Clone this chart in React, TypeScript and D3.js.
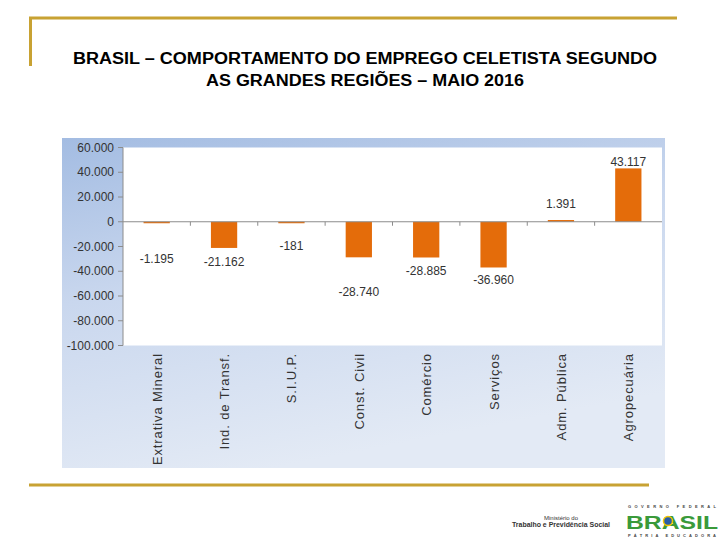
import React from "react";
import * as d3 from "d3";

const categories = [
  "Extrativa Mineral",
  "Ind. de Transf.",
  "S.I.U.P.",
  "Const. Civil",
  "Comércio",
  "Serviços",
  "Adm. Pública",
  "Agropecuária",
];
const values = [-1195, -21162, -181, -28740, -28885, -36960, 1391, 43117];
const yTicks = [60000, 40000, 20000, 0, -20000, -40000, -60000, -80000, -100000];
const titleLines = [
  "BRASIL – COMPORTAMENTO DO EMPREGO CELETISTA SEGUNDO",
  "AS GRANDES REGIÕES – MAIO 2016",
];
// label nudges (px beyond bar end)
const labelGap = [36, 14, 24, 34, 13, 12, 16, 7];

const W = 720;
const H = 540;
const GOLD = "#c8a233";
const ORANGE = "#e46c0a";
const FONT = "'Liberation Sans', Arial, sans-serif";

const locale = d3.formatLocale({
  decimal: ",",
  thousands: ".",
  grouping: [3],
  currency: ["", ""],
  minus: "-",
});
const fmt = locale.format(",");

export default function App() {
  const plot = { left: 123, right: 662, top: 147.5, bottom: 345.5 };
  const x = d3
    .scaleBand<string>()
    .domain(categories)
    .range([plot.left, plot.right])
    .padding(0);
  const y = d3.scaleLinear().domain([-100000, 60000]).range([plot.bottom, plot.top]);
  const bw = x.bandwidth() * 0.39;
  const y0 = y(0);

  return (
    <svg
      width={W}
      height={H}
      viewBox={`0 0 ${W} ${H}`}
      style={{ position: "absolute", left: 0, top: 0, background: "#fff" }}
      fontFamily={FONT}
    >
      <defs>
        <linearGradient id="bg" x1="0" y1="0" x2="0.35" y2="1">
          <stop offset="0" stopColor="#a3bce2" />
          <stop offset="0.45" stopColor="#c9d7ee" />
          <stop offset="1" stopColor="#e3eaf5" />
        </linearGradient>
      </defs>

      {/* gold frame lines */}
      <line x1={29} x2={677} y1={18} y2={18} stroke={GOLD} strokeWidth={3} />
      <line x1={30.5} x2={30.5} y1={17} y2={66} stroke={GOLD} strokeWidth={3} />
      <line x1={29} x2={649} y1={485} y2={485} stroke={GOLD} strokeWidth={3} />

      {/* title */}
      <text x={365} y={64} textAnchor="middle" fontWeight="bold" fontSize={16}
        textLength={584} lengthAdjust="spacingAndGlyphs" fill="#000">
        {titleLines[0]}
      </text>
      <text x={365} y={86} textAnchor="middle" fontWeight="bold" fontSize={16}
        textLength={318} lengthAdjust="spacingAndGlyphs" fill="#000">
        {titleLines[1]}
      </text>

      {/* chart box */}
      <rect x={62} y={138} width={603} height={330} fill="url(#bg)" />
      <rect x={plot.left} y={plot.top} width={plot.right - plot.left}
        height={plot.bottom - plot.top} fill="#fff" />

      {/* y axis */}
      <line x1={plot.left} x2={plot.left} y1={plot.top} y2={plot.bottom} stroke="#8c8c8c" strokeWidth={1} />
      {yTicks.map((t) => (
        <g key={t}>
          <line x1={plot.left - 5} x2={plot.left} y1={y(t)} y2={y(t)} stroke="#8c8c8c" />
          <text x={114} y={y(t)} dy="0.35em" textAnchor="end" fontSize={12} fill="#333">
            {fmt(t)}
          </text>
        </g>
      ))}

      {/* bars */}
      {values.map((v, i) => {
        const cx = (x(categories[i]) as number) + x.bandwidth() / 2;
        const yv = y(v);
        return (
          <rect key={categories[i]} x={cx - bw / 2} y={Math.min(yv, y0)} width={bw}
            height={Math.max(Math.abs(yv - y0), 1.5)} fill={ORANGE} />
        );
      })}

      {/* zero line and category ticks */}
      <line x1={plot.left} x2={plot.right} y1={y0} y2={y0} stroke="#8c8c8c" />
      {categories.slice(1).map((c) => (
        <line key={c} x1={x(c)} x2={x(c)} y1={y0} y2={y0 + 4} stroke="#8c8c8c" />
      ))}

      {/* value labels */}
      {values.map((v, i) => {
        const cx = (x(categories[i]) as number) + x.bandwidth() / 2;
        const yv = y(v);
        const ly = v < 0 ? yv + labelGap[i] : yv - labelGap[i];
        return (
          <text key={categories[i]} x={cx} y={ly} dy="0.35em" textAnchor="middle"
            fontSize={12} fill="#333">
            {fmt(v)}
          </text>
        );
      })}

      {/* category labels */}
      {categories.map((c) => {
        const cx = (x(c) as number) + x.bandwidth() / 2;
        return (
          <text key={c} transform={`translate(${cx + 5},353) rotate(-90)`} textAnchor="end"
            fontSize={13} letterSpacing={0.9} fill="#333">
            {c}
          </text>
        );
      })}

      {/* footer logos */}
      <text x={561} y={520} textAnchor="middle" fontSize={6} fill="#333">Ministério do</text>
      <text x={561} y={527} textAnchor="middle" fontSize={6.5} fontWeight="bold" fill="#333"
        textLength={98} lengthAdjust="spacingAndGlyphs">
        Trabalho e Previdência Social
      </text>
      <text x={672} y={508} textAnchor="middle" fontSize={4} fontWeight="bold"
        textLength={88} lengthAdjust="spacing" fill="#444">
        GOVERNO FEDERAL
      </text>
      <text x={672} y={529} textAnchor="middle" fontSize={19} fontWeight="bold"
        textLength={92} lengthAdjust="spacingAndGlyphs" fill="#3a9a3a">
        BRASIL
      </text>
      <circle cx={668} cy={521} r={4.5} fill="#2a5ea8" stroke="#f2c500" strokeWidth={1.5} />
      <text x={672} y={537} textAnchor="middle" fontSize={4} fontWeight="bold"
        textLength={88} lengthAdjust="spacing" fill="#444">
        PÁTRIA EDUCADORA
      </text>
    </svg>
  );
}
